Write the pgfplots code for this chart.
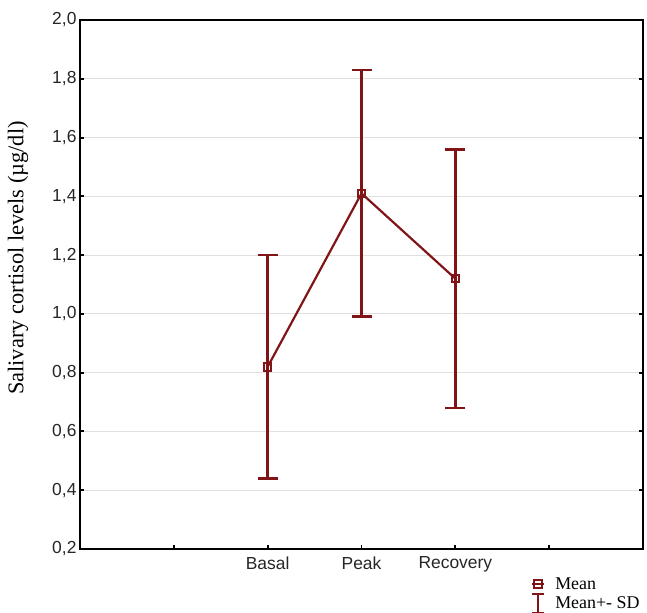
\documentclass[border=0pt]{standalone}
\usepackage{pgfplots}
\pgfplotsset{compat=1.18}
\usepackage{fontspec}
\setmainfont{Liberation Serif}
\newfontfamily\arial{Liberation Sans}
\definecolor{dred}{RGB}{128,20,22}

% legend symbols: short line with square, and the I-beam for +-SD
\pgfplotsset{
    meanlegend/.style={legend image code/.code={\draw[mark repeat=2,mark phase=2,##1] plot coordinates {(0cm,0cm)(0.22cm,0cm)(0.44cm,0cm)};}},
    sdlegend/.style={legend image code/.code={\draw[dred, line width=2.4pt] (0.22cm,-0.34cm)--(0.22cm,0.34cm) (0.02cm,-0.34cm)--(0.42cm,-0.34cm) (0.02cm,0.34cm)--(0.42cm,0.34cm);}},
}

\begin{document}
\begin{tikzpicture}
\begin{axis}[
    scale only axis,
    width=563bp, height=529bp,
    xmin=0, xmax=6,
    ymin=0.2, ymax=2.0,
    xtick={1,2,3,4,5},
    xticklabels={,Basal,Peak,Recovery,},
    ytick={0.2,0.4,0.6,0.8,1.0,1.2,1.4,1.6,1.8,2.0},
    yticklabel style={/pgf/number format/.cd, fixed, fixed zerofill, precision=1, use comma},
    /pgf/number format/assume math mode=true,
    ticklabel style={font=\arial\fontsize{17.5}{20}\selectfont, text=black!85},
    xticklabel style={yshift=-4bp},
    tick align=inside,
    xtick pos=bottom,
    ytick pos=both,
    major tick length=4bp,
    tick style={black, line width=2pt},
    axis line style={line width=2.2pt},
    ymajorgrids,
    grid style={black!12, line width=0.8pt},
    ylabel={Salivary cortisol levels (µg/dl)},
    ylabel style={font=\fontsize{22.5}{26}\selectfont, at={(axis description cs:-0.110,0.55)}, anchor=center},
    legend style={at={(axis description cs:0.800,-0.050)}, anchor=north west, draw=none, fill=none,
        font=\fontsize{18}{20}\selectfont, inner sep=0pt, row sep=0bp, column sep=8bp},
    legend cell align=left,
]

\addplot[dred, line width=2.2pt, mark=square, mark size=3.8bp,
    mark options={line width=2pt, solid, fill=white},
    meanlegend,
    error bars/.cd, y dir=both, y explicit,
    error bar style={line width=2.7pt, dred},
    error mark options={rotate=90, mark size=10bp, line width=2.7pt, dred}]
coordinates {
    (2,0.82) +- (0,0.38)
    (3,1.41) +- (0,0.42)
    (4,1.12) +- (0,0.44)
};
\addlegendentry{Mean}

\addlegendimage{sdlegend}
\addlegendentry{Mean+- SD}

\end{axis}
\pgfresetboundingbox
\path[use as bounding box] ([xshift=-80bp,yshift=-64bp]current axis.south west) rectangle ([xshift=4bp,yshift=20bp]current axis.north east);
\end{tikzpicture}
\end{document}
